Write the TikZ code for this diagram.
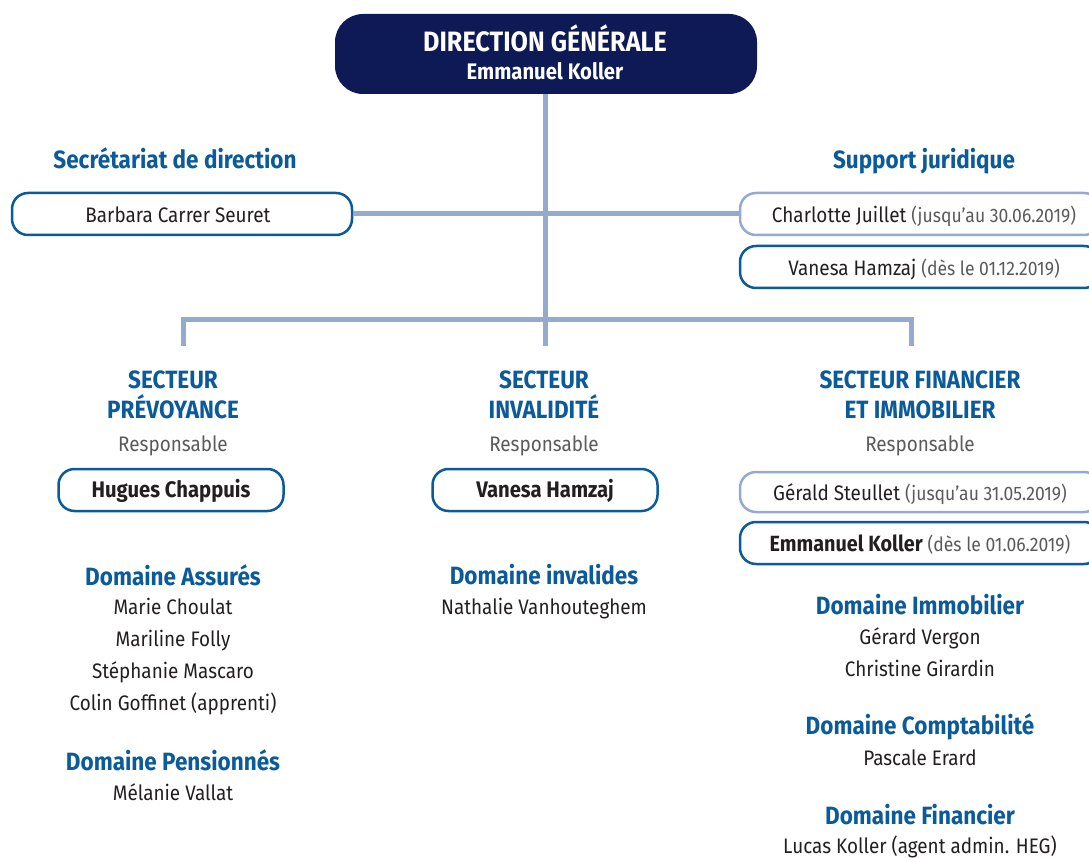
\documentclass[tikz,border=0pt]{standalone}
\usepackage{fontspec}
\setmainfont[FakeStretch=0.9]{Fira Sans}
\definecolor{navy}{HTML}{0D1A55}
\definecolor{titleblue}{HTML}{0B5A9A}
\definecolor{linkgrey}{HTML}{95AACF}
\definecolor{darktext}{HTML}{231F20}
\definecolor{softtext}{HTML}{5A5A5A}
\newcommand{\datetext}[1]{{\color{softtext}\fontsize{19.5}{22}\selectfont #1}}
\tikzset{
  link/.style={draw=linkgrey, line width=5pt},
  namebox/.style={draw=titleblue, line width=2.5pt, rounded corners=16pt, fill=white,
    minimum height=42pt, text=darktext, font=\fontsize{21}{24}\selectfont},
  oldbox/.style={namebox, draw=linkgrey},
  boldname/.style={font=\fontsize{22.5}{25}\selectfont\bfseries, text height=20pt, text depth=5pt},
  heading/.style={text=titleblue, font=\fontsize{25}{30}\selectfont\bfseries, text height=24pt, text depth=4pt},
  person/.style={text=darktext, font=\fontsize{21}{24}\selectfont, text height=21.5pt, text depth=5pt}
}
\begin{document}
\begin{tikzpicture}[x=1pt,y=-1pt]
    \useasboundingbox (0,0) rectangle (1089,858);
    %% direction
    \node[fill=navy, rounded corners=28pt, minimum width=422pt, minimum height=80pt] (dg) at (546,54) {};
    \node[text=white, font=\fontsize{28}{30}\selectfont\bfseries] (dgtitle) at (545,38) {DIRECTION GÉNÉRALE};
    \node[text=white, boldname] (dgname) at (545,72) {Emmanuel Koller};
    %% secretariat and support
    \node[heading] (sec) at (175,159) {Secrétariat de direction};
    \node[namebox, minimum width=340pt] (barbara) at (182,214) {};
    \node[person] (barbaratxt) at (178,214) {Barbara Carrer Seuret};
    \node[heading] (jur) at (924,159) {Support juridique};
    \node[oldbox, minimum width=360pt] (charlotte) at (920,214) {};
    \node[person] (charlottetxt) at (924,214) {Charlotte Juillet \datetext{(jusqu'au 30.06.2019)}};
    \node[namebox, minimum width=360pt] (vanesajur) at (920,267) {};
    \node[person] (vanesajurtxt) at (924,267) {Vanesa Hamzaj \datetext{(dès le 01.12.2019)}};
    %% connectors
    \coordinate (barL) at (183,320); \coordinate (barR) at (911,320);
    \coordinate (dropL) at (183,346); \coordinate (dropM) at (545,346); \coordinate (dropR) at (911,346);
    \draw[link] (barbara.east) -- (charlotte.west);
    \draw[link] (dg.south -| dropM) -- (dropM);
    \draw[link] (dropL) -- (barL) -- (barR) -- (dropR);
    %% secteur prevoyance
    \node[heading, align=center, text height=, text depth=] (prev) at (173,395) {SECTEUR\\PRÉVOYANCE};
    \node[person, text=softtext] (prevresp) at (173,443) {Responsable};
    \node[namebox, minimum width=225pt, boldname] (hugues) at (171,490) {Hugues Chappuis};
    \node[heading] (assures) at (173,575) {Domaine Assurés};
    \node[person] (p1) at (173,606) {Marie Choulat};
    \node[person] (p2) at (173,638) {Mariline Folly};
    \node[person] (p3) at (173,670) {Stéphanie Mascaro};
    \node[person] (p4) at (173,702) {Colin Goffinet (apprenti)};
    \node[heading] (pension) at (173,760) {Domaine Pensionnés};
    \node[person] (p5) at (173,792) {Mélanie Vallat};
    %% secteur invalidite
    \node[heading, align=center, text height=, text depth=] (inval) at (544,395) {SECTEUR\\INVALIDITÉ};
    \node[person, text=softtext] (invalresp) at (544,443) {Responsable};
    \node[namebox, minimum width=225pt, boldname] (vanesa) at (545,490) {Vanesa Hamzaj};
    \node[heading] (invalides) at (544,574) {Domaine invalides};
    \node[person] (i1) at (544,606) {Nathalie Vanhouteghem};
    %% secteur financier
    \node[heading, align=center, text height=, text depth=] (fin) at (920,395) {SECTEUR FINANCIER\\ET IMMOBILIER};
    \node[person, text=softtext] (finresp) at (920,443) {Responsable};
    \node[oldbox, minimum width=360pt, minimum height=40pt] (gerald) at (920,492) {};
    \node[person] (geraldtxt) at (920,492) {Gérald Steullet \datetext{(jusqu'au 31.05.2019)}};
    \node[namebox, minimum width=360pt] (koller) at (920,543) {};
    \node[person] (kollertxt) at (920,543) {{\fontsize{22}{24}\selectfont\bfseries Emmanuel Koller} \datetext{(dès le 01.06.2019)}};
    \node[heading] (immo) at (920,604) {Domaine Immobilier};
    \node[person] (f1) at (920,636) {Gérard Vergon};
    \node[person] (f2) at (920,668) {Christine Girardin};
    \node[heading] (compta) at (920,724) {Domaine Comptabilité};
    \node[person] (f3) at (920,757) {Pascale Erard};
    \node[heading] (finance) at (920,814) {Domaine Financier};
    \node[person] (f4) at (920,845) {Lucas Koller (agent admin. HEG)};
\end{tikzpicture}
\end{document}
